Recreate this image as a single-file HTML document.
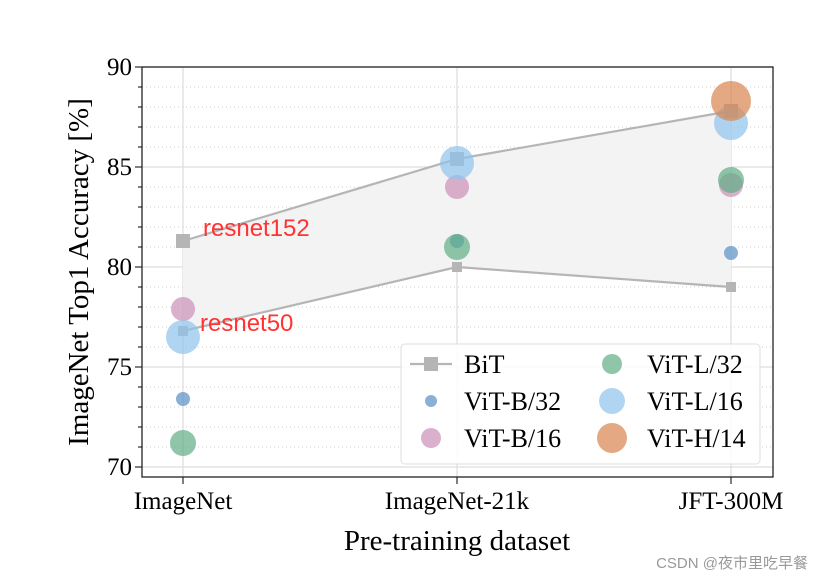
<!DOCTYPE html>
<html><head><meta charset="utf-8"><style>body{margin:0;background:#fff}svg{display:block}</style></head>
<body>
<svg id="c" width="823" height="580" xmlns="http://www.w3.org/2000/svg" font-family="Liberation Serif, serif"></svg>
<script>
const categories=["ImageNet","ImageNet-21k","JFT-300M"];
const yTicks=[70,75,80,85,90];
const bitUpper=[81.3,85.4,87.8];
const bitLower=[76.8,80.0,79.0];
const vitB32=[73.4,81.3,80.7];
const vitB16=[77.9,84.0,84.1];
const vitL32=[71.2,81.0,84.35];
const vitL16=[76.5,85.2,87.2];
const vitH14=[null,null,88.3];
const seriesNames=["ViT-B/32","ViT-B/16","ViT-L/32","ViT-L/16","ViT-H/14"];
const NS="http://www.w3.org/2000/svg",svg=document.getElementById('c');
const L=142,R=773,T=67,B=477;
const x=i=>183+i*274;
const y=v=>467-(v-70)*20;
function el(t,a,p){const e=document.createElementNS(NS,t);for(const k in a)e.setAttribute(k,a[k]);(p||svg).appendChild(e);return e;}
for(let v=70;v<=90;v++){if(v%5){const g=el('line',{x1:L,x2:R,y1:y(v),y2:y(v),stroke:'#ccc','stroke-dasharray':'1,3','stroke-width':1});

const t=el('line',{x1:L-4,x2:L,y1:y(v),y2:y(v),stroke:'#000'});}}
yTicks.forEach(v=>{const g=el('line',{x1:L,x2:R,y1:y(v),y2:y(v),stroke:'#ddd','stroke-width':1.2});

el('line',{x1:L-7,x2:L,y1:y(v),y2:y(v),stroke:'#000'});
const t=el('text',{x:L-10,y:y(v)+8,'text-anchor':'end','font-size':25});t.textContent=v;
});
categories.forEach((c,i)=>{const g=el('line',{x1:x(i),x2:x(i),y1:T,y2:B,stroke:'#ddd','stroke-width':1.2});

el('line',{x1:x(i),x2:x(i),y1:B,y2:B+7,stroke:'#000'});
const t=el('text',{x:x(i),y:509,'text-anchor':'middle','font-size':25});t.textContent=c;
});
let pts=bitUpper.map((v,i)=>x(i)+','+y(v)).concat(bitLower.map((v,i)=>x(i)+','+y(v)).reverse()).join(' ');
const band=el('polygon',{points:pts,fill:'#f3f3f3'});
[[bitUpper,14],[bitLower,10]].forEach(([s,m])=>{
const pl=el('polyline',{points:s.map((v,i)=>x(i)+','+y(v)).join(' '),fill:'none',stroke:'#b5b5b5','stroke-width':2.2});

s.forEach((v,i)=>{const r=el('rect',{x:x(i)-m/2,y:y(v)-m/2,width:m,height:m,fill:'#b5b5b5'});
});});
const cols=['#5a8fc4','#cc8fb8','#5fae85','#8fc3ec','#d9854e'];
const rad=[7,12,13,17,20];
[vitB32,vitB16,vitL32,vitL16,vitH14].forEach((s,k)=>s.forEach((v,i)=>{if(v==null)return;
const c=el('circle',{cx:x(i),cy:y(v),r:rad[k],fill:cols[k],'fill-opacity':0.7});
}));
[['resnet152',203,236],['resnet50',200,331]].forEach(([s,a,b])=>{const t=el('text',{x:a,y:b,fill:'#ff3333','font-size':24,'font-family':'Liberation Sans, sans-serif'});t.textContent=s;
});
const fr=el('rect',{x:L,y:T,width:R-L,height:B-T,fill:'none',stroke:'#222','stroke-width':1.3});
const lg=el('g',{});
el('rect',{x:401,y:344,width:359,height:120,rx:4,fill:'#fff','fill-opacity':0.85,stroke:'#ddd'},lg);
el('line',{x1:410,x2:452,y1:364,y2:364,stroke:'#b5b5b5','stroke-width':2.2},lg);
el('rect',{x:424,y:357,width:14,height:14,fill:'#b5b5b5'},lg);
const items=[['BiT',null],['ViT-B/32',0],['ViT-B/16',1],['ViT-L/32',2],['ViT-L/16',3],['ViT-H/14',4]];
const lr=[6,10,10,13,15];
items.forEach(([n,k],j)=>{const col=j<3?0:1,row=j%3;const cx=col?612:431,cy=364+row*37;
if(k!=null)el('circle',{cx:cx,cy:cy,r:lr[k],fill:cols[k],'fill-opacity':0.7},lg);
const t=el('text',{x:col?647:464,y:cy+9,'font-size':26},lg);t.textContent=n;
});
const xt=el('text',{x:457,y:550,'text-anchor':'middle','font-size':29});xt.textContent='Pre-training dataset';

const yt=el('text',{x:0,y:0,'text-anchor':'middle','font-size':29,transform:'translate(88,272) rotate(-90)'});yt.textContent='ImageNet Top1 Accuracy [%]';

const wm=el('text',{x:808,y:568,'text-anchor':'end','font-size':15,fill:'#999','font-family':'Liberation Sans, Noto Sans CJK SC, sans-serif'});wm.textContent='CSDN @夜市里吃早餐';

</script>
</body></html>
